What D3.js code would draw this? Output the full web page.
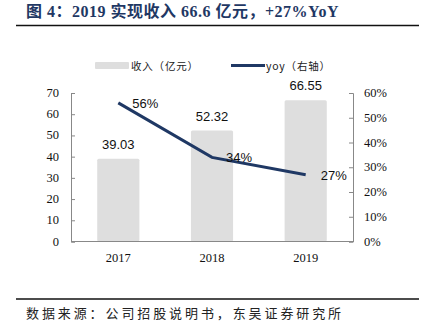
<!DOCTYPE html>
<html>
<head>
<meta charset="utf-8">
<script src="https://cdn.jsdelivr.net/npm/d3@7"></script>
<style>
  body { margin: 0; background: #fff; }
  svg { display: block; }
</style>
</head>
<body>
<script>
// revenue (亿元) and growth by year
var years = ["2017", "2018", "2019"];
var revenue = [39.03, 52.32, 66.55];
var yoy = [0.56, 0.34, 0.27];
var leftTicks = [0, 10, 20, 30, 40, 50, 60, 70];
var rightTicks = [0, 0.1, 0.2, 0.3, 0.4, 0.5, 0.6];

var svg = d3.select("body").append("svg")
    .attr("width", 421)
    .attr("height", 332);

var navy = "#1f3864";
var barColor = "#dedede";
var serif = "'Liberation Serif', 'Times New Roman', serif";
var sans = "'Liberation Sans', Arial, sans-serif";
var cjk = "'Noto Sans CJK SC', sans-serif";

// title
svg.append("text")
    .attr("x", 26)
    .attr("y", 17)
    .attr("font-family", serif + ", 'Noto Sans CJK SC'")
    .attr("font-weight", "bold")
    .attr("font-size", 16)
    .attr("letter-spacing", 0.5)
    .attr("fill", navy)
    .text("图 4：2019 实现收入 66.6 亿元，+27%YoY");

svg.append("line")
    .attr("x1", 16).attr("x2", 419)
    .attr("y1", 25.5).attr("y2", 25.5)
    .style("stroke", "#111")
    .style("stroke-width", 1.5);

var plotL = 71, plotR = 353, plotT = 93, plotB = 241.5;

var x = d3.scaleBand()
    .domain(years)
    .range([plotL, plotR])
    .paddingInner(0.55)
    .paddingOuter(0.28);

var yL = d3.scaleLinear().domain([0, 70]).range([plotB, plotT]);
var yR = d3.scaleLinear().domain([0, 0.6]).range([plotB, plotT]);

// bars
svg.selectAll("rect.bar")
    .data(revenue)
    .enter()
    .append("rect")
    .attr("class", "bar")
    .attr("x", function (d, i) { return x(years[i]); })
    .attr("y", function (d) { return yL(d); })
    .attr("width", x.bandwidth())
    .attr("height", function (d) { return yL(0) - yL(d); })
    .attr("rx", 1.5)
    .style("fill", barColor);

svg.selectAll("text.barlabel")
    .data(revenue)
    .enter()
    .append("text")
    .attr("class", "barlabel")
    .attr("x", function (d, i) { return x(years[i]) + x.bandwidth() / 2; })
    .attr("y", function (d) { return yL(d) - 10; })
    .attr("text-anchor", "middle")
    .attr("font-family", sans)
    .attr("font-size", 13)
    .attr("fill", "#111")
    .text(function (d) { return d.toFixed(2); });

// axes
var axisColor = "#888";

var yAxisL = d3.axisRight(yL).tickValues(leftTicks).tickSize(4);
var gL = svg.append("g").attr("transform", "translate(" + plotL + ",0)").call(yAxisL);
gL.selectAll("text").remove();
gL.selectAll("line, path").style("stroke", axisColor);

svg.selectAll("text.lt")
    .data(leftTicks)
    .enter()
    .append("text")
    .attr("class", "lt")
    .attr("x", 59)
    .attr("y", function (d) { return yL(d) + 4; })
    .attr("text-anchor", "end")
    .attr("font-family", serif)
    .attr("font-size", 12.5)
    .attr("fill", "#111")
    .text(function (d) { return d; });

var yAxisR = d3.axisLeft(yR).tickValues(rightTicks).tickSize(4);
var gR = svg.append("g").attr("transform", "translate(" + plotR + ",0)").call(yAxisR);
gR.selectAll("text").remove();
gR.selectAll("line, path").style("stroke", axisColor);

svg.selectAll("text.rt")
    .data(rightTicks)
    .enter()
    .append("text")
    .attr("class", "rt")
    .attr("x", 364)
    .attr("y", function (d) { return yR(d) + 4; })
    .attr("font-family", serif)
    .attr("font-size", 12.5)
    .attr("fill", "#111")
    .text(function (d) { return Math.round(d * 100) + "%"; });

svg.append("line")
    .attr("x1", plotL).attr("x2", plotR)
    .attr("y1", plotB).attr("y2", plotB)
    .style("stroke", axisColor);

svg.selectAll("text.xl")
    .data(years)
    .enter()
    .append("text")
    .attr("class", "xl")
    .attr("x", function (d) { return x(d) + x.bandwidth() / 2; })
    .attr("y", 262)
    .attr("text-anchor", "middle")
    .attr("font-family", serif)
    .attr("font-size", 12.5)
    .attr("fill", "#111")
    .text(function (d) { return d; });

// yoy line
var line = d3.line()
    .x(function (d, i) { return x(years[i]) + x.bandwidth() / 2; })
    .y(function (d) { return yR(d); });

svg.append("path")
    .datum(yoy)
    .attr("d", line)
    .style("fill", "none")
    .style("stroke", navy)
    .style("stroke-width", 3);

var yoyDx = [14, 14, 15];
svg.selectAll("text.yl")
    .data(yoy)
    .enter()
    .append("text")
    .attr("class", "yl")
    .attr("x", function (d, i) { return x(years[i]) + x.bandwidth() / 2 + yoyDx[i]; })
    .attr("y", function (d) { return yR(d) + 5; })
    .attr("font-family", sans)
    .attr("font-size", 13)
    .attr("fill", "#111")
    .text(function (d) { return Math.round(d * 100) + "%"; });

// legend
svg.append("rect")
    .attr("x", 95).attr("y", 62)
    .attr("width", 34).attr("height", 7)
    .attr("rx", 1)
    .style("fill", barColor);
svg.append("text")
    .attr("x", 131).attr("y", 69.5)
    .attr("font-family", cjk)
    .attr("font-size", 10.5)
    .attr("letter-spacing", 0.8)
    .attr("fill", "#222")
    .text("收入（亿元）");

svg.append("line")
    .attr("x1", 231).attr("x2", 265)
    .attr("y1", 65.5).attr("y2", 65.5)
    .style("stroke", navy)
    .style("stroke-width", 3);
svg.append("text")
    .attr("x", 266).attr("y", 69.5)
    .attr("font-family", cjk)
    .attr("font-size", 10.5)
    .attr("letter-spacing", 0.8)
    .attr("fill", "#222")
    .text("yoy（右轴）");

// source
svg.append("line")
    .attr("x1", 16).attr("x2", 419)
    .attr("y1", 299).attr("y2", 299)
    .style("stroke", "#111")
    .style("stroke-width", 1.5);

svg.append("text")
    .attr("x", 26).attr("y", 318)
    .attr("font-family", cjk)
    .attr("font-size", 13)
    .attr("letter-spacing", 2.9)
    .attr("fill", "#222")
    .text("数据来源：公司招股说明书，东吴证券研究所");
</script>
</body>
</html>
